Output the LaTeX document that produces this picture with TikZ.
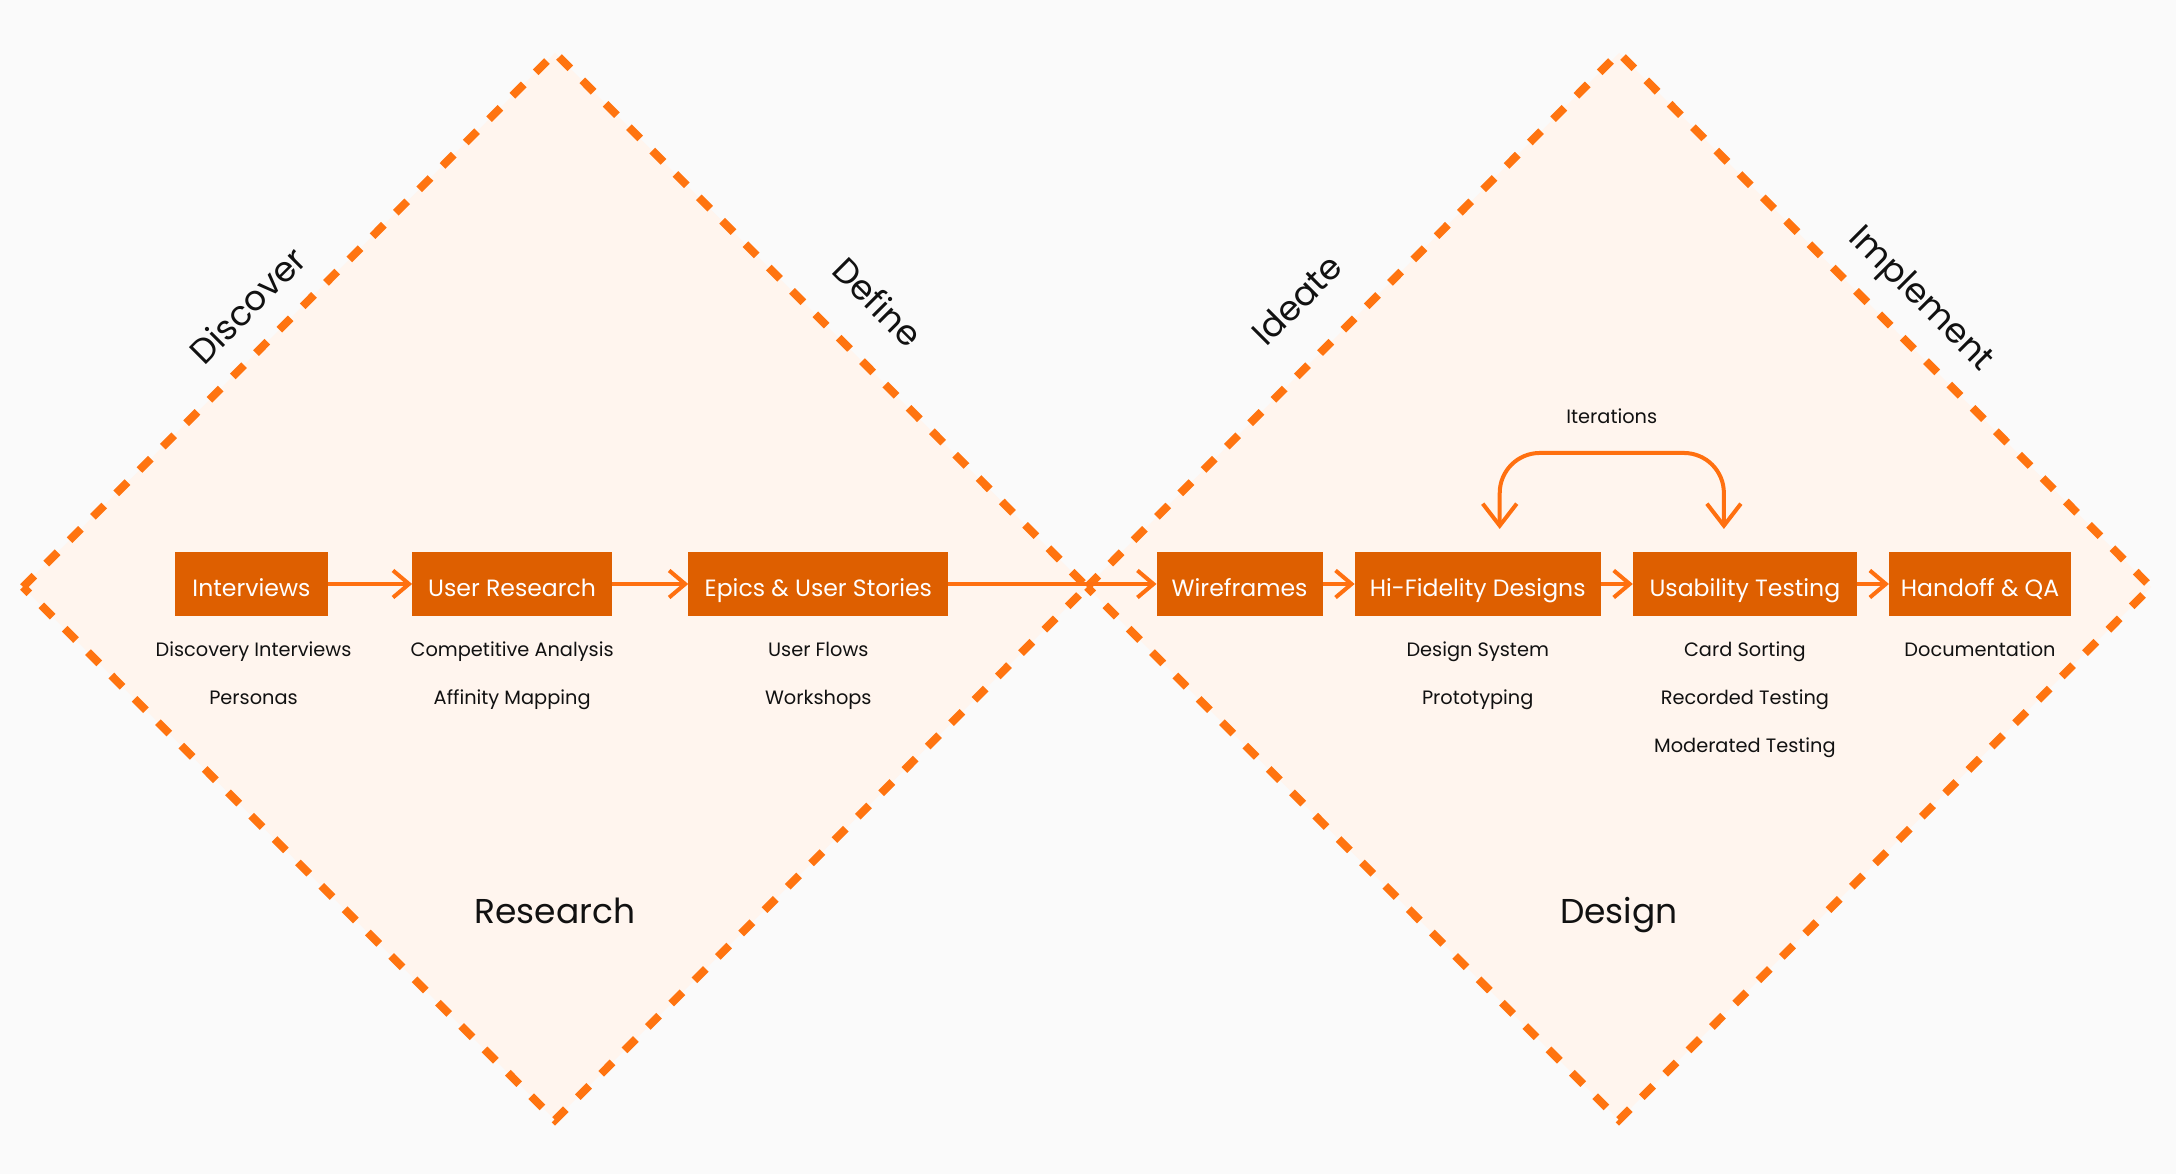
\documentclass[tikz,border=0pt]{standalone}
\usepackage{fontspec}
\setmainfont{Poppins}
\usepackage{tikz}
\usetikzlibrary{positioning, calc, arrows.meta}
\definecolor{hintergrund}{HTML}{FAFAFA}
\definecolor{flaeche}{HTML}{FFF5EE}
\definecolor{strich}{HTML}{FF7410}
\definecolor{kastenrot}{HTML}{DE5F00}
\definecolor{pfeil}{HTML}{FF7010}
\definecolor{schrift}{HTML}{111111}
\tikzset{raute/.style={draw=strich, fill=flaeche, line width=0.08cm, dash pattern=on 0.16cm off 0.17cm},
	kasten/.style={rectangle, fill=kastenrot, text=white, minimum height=0.64cm, inner sep=0, outer sep=0, text height=0.7em, text depth=0pt, font=\fontsize{6.7}{8}\selectfont},
	notiz/.style={inner sep=0, anchor=base, text=schrift, font=\fontsize{5.5}{7}\selectfont},
	phase/.style={inner sep=0, text=schrift, font=\fontsize{9.8}{12}\selectfont},
	fluss/.style={draw=pfeil, line width=0.04cm, -{Straight Barb[length=0.16cm, width=0.27cm]}},
	schleife/.style={draw=pfeil, line width=0.04cm, rounded corners=0.4cm, {Straight Barb[length=0.22cm, width=0.34cm]}-{Straight Barb[length=0.22cm, width=0.34cm]}} }

\begin{document}
\begin{tikzpicture}[x=0.01cm, y=-0.01cm]
  \fill[hintergrund] (0,0) rectangle (2176,1174);

  % the two diamonds
  \draw[raute] (23,587) -- (555,53) -- (1087,587) -- (555,1120) -- cycle;
  \draw[raute] (1087,587) -- (1619,53) -- (2151,587) -- (1619,1120) -- cycle;

  \node (ia) [kasten, minimum width=1.53cm] at (251.5,584) {Interviews};
  \node (ur) [kasten, minimum width=2cm, right=0.84cm of ia] {User Research};
  \node (es) [kasten, minimum width=2.6cm, right=0.76cm of ur] {Epics \& User Stories};
  \node (wf) [kasten, minimum width=1.66cm, right=2.08cm of es] {Wireframes};
  \node (hf) [kasten, minimum width=2.46cm, right=0.32cm of wf] {Hi-Fidelity Designs};
  \node (ut) [kasten, minimum width=2.24cm, right=0.32cm of hf] {Usability Testing};
  \node (hq) [kasten, minimum width=1.82cm, right=0.32cm of ut] {Handoff \& QA};

  \draw[fluss] (ia) -- (ur);
  \draw[fluss] (ur) -- (es);
  \draw[fluss] (es) -- (wf);
  \draw[fluss] (wf) -- (hf);
  \draw[fluss] (hf) -- (ut);
  \draw[fluss] (ut) -- (hq);

  \node (ia1) [notiz] at ($(ia)+(2,73)$) {Discovery Interviews};
  \node (ia2) [notiz] at ($(ia)+(2,121)$) {Personas};
  \node (ur1) [notiz] at ($(ur)+(0,73)$) {Competitive Analysis};
  \node (ur2) [notiz] at ($(ur)+(0,121)$) {Affinity Mapping};
  \node (es1) [notiz] at ($(es)+(0,73)$) {User Flows};
  \node (es2) [notiz] at ($(es)+(0,121)$) {Workshops};
  \node (hf1) [notiz] at ($(hf)+(0,73)$) {Design System};
  \node (hf2) [notiz] at ($(hf)+(0,121)$) {Prototyping};
  \node (ut1) [notiz] at ($(ut)+(0,73)$) {Card Sorting};
  \node (ut2) [notiz] at ($(ut)+(0,121)$) {Recorded Testing};
  \node (ut3) [notiz] at ($(ut)+(0,169)$) {Moderated Testing};
  \node (hq1) [notiz] at ($(hq)+(0,73)$) {Documentation};

  % iteration loop
  \coordinate (itA) at ($(hf.north)+(22,-23)$);
  \coordinate (itB) at ($(ut.north)+(-21,-23)$);
  \draw[schleife] (itA) -- ++(0,-76) -| (itB);
  \node (iter) [notiz] at ($(itA)!0.5!(itB)+(0,-105)$) {Iterations};

  \node (lres) [phase, anchor=base] at (555,924) {Research};
  \node (ldes) [phase, anchor=base] at (1619,924) {Design};
  \node (pdis) [phase, rotate=45] at (247,305) {Discover};
  \node (pdef) [phase, rotate=-45] at (878,302) {Define};
  \node (pide) [phase, rotate=45] at (1297,300) {Ideate};
  \node (pimp) [phase, rotate=-45] at (1920,300) {Implement};
\end{tikzpicture}
\end{document}
